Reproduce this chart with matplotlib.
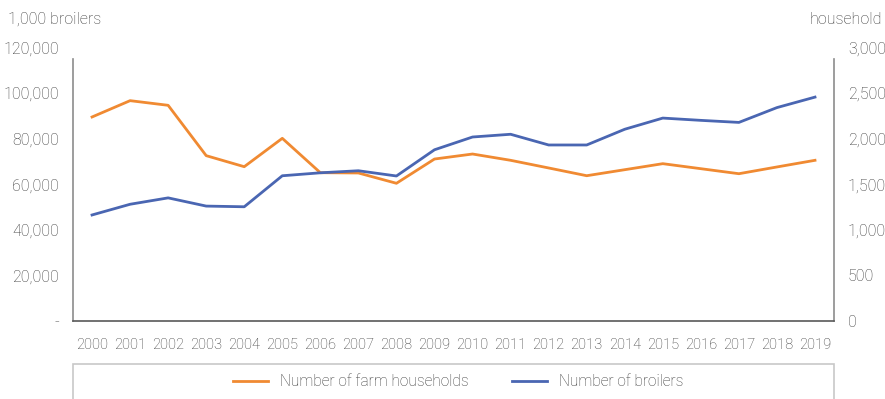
import matplotlib.pyplot as plt
from matplotlib.patches import Rectangle
from matplotlib.ticker import FuncFormatter

plt.rcParams['font.family'] = ['Roboto', 'DejaVu Sans']

years = [str(y) for y in range(2000, 2020)]
# thousand head
broilers = [46500, 51200, 54000, 50400, 50100, 63700, 65000, 65900, 63600, 75100,
            80700, 81900, 77200, 77200, 84100, 89000, 88000, 87100, 93600, 98200]
# farm households
households = [2237, 2416, 2365, 1813, 1692, 2003, 1626, 1623, 1510, 1776,
              1831, 1762, 1678, 1593, 1659, 1725, 1670, 1615, 1689, 1762]

orange = '#F08A32'
blue = '#4A66B2'
txt = '#383838'

fig = plt.figure(figsize=(8.85, 3.99), dpi=100)
ax = fig.add_axes([0.0825, 0.1955, 0.8599, 0.6857])
ax2 = ax.twinx()

x = range(len(years))
l1, = ax2.plot(x, households, color=orange, lw=2.0, label='Number of farm households')
l2, = ax.plot(x, broilers, color=blue, lw=2.0, label='Number of broilers')
ax.set_zorder(ax2.get_zorder() + 1)
ax.patch.set_visible(False)

ax.set_xlim(-0.5, len(years) - 0.5)
ax.set_ylim(0, 120000)
ax2.set_ylim(0, 3000)
ax.set_yticks(range(0, 120001, 20000))
ax2.set_yticks(range(0, 3001, 500))
ax.yaxis.set_major_formatter(FuncFormatter(lambda v, p: '-' if v == 0 else f'{v:,.0f}'))
ax2.yaxis.set_major_formatter(FuncFormatter(lambda v, p: f'{v:,.0f}'))
ax.set_xticks(list(x))
ax.set_xticklabels(years)

for a in (ax, ax2):
    a.tick_params(length=0, labelsize=11.5, labelcolor=txt)
    for s in a.spines.values():
        s.set_visible(False)
ax.tick_params(axis='y', pad=10)
ax.tick_params(axis='x', pad=12, labelsize=10.5)
ax2.tick_params(axis='y', pad=10)
for lab in ax.get_xticklabels() + ax.get_yticklabels() + ax2.get_yticklabels():
    lab.set_fontweight('light')

ax.spines['left'].set_visible(True)
ax.spines['left'].set_color('#8c8c8c')
ax.spines['left'].set_linewidth(1.2)
ax.spines['left'].set_bounds(0, 115000)
ax.spines['bottom'].set_visible(True)
ax.spines['bottom'].set_color('#595959')
ax.spines['bottom'].set_linewidth(1.2)
ax2.spines['right'].set_visible(True)
ax2.spines['right'].set_color('#8c8c8c')
ax2.spines['right'].set_linewidth(1.2)
ax2.spines['right'].set_bounds(0, 2875)

fig.text(0.009, 0.952, '1,000 broilers', fontsize=11.5, color=txt, fontweight='light',
         ha='left', va='center')
fig.text(0.997, 0.952, 'household', fontsize=11.5, color=txt, fontweight='light',
         ha='right', va='center')

fig.patches.append(Rectangle((0.0825, -0.1), 0.8599, 0.1877, transform=fig.transFigure,
                             fill=False, edgecolor='#c8c8c8', lw=1.2, clip_on=False))
leg = fig.legend(handles=[l1, l2], loc='center', bbox_to_anchor=(0.518, 0.043), ncol=2,
                 frameon=False, fontsize=11.2, handlelength=2.2, columnspacing=2.8,
                 handletextpad=0.8)
for t in leg.get_texts():
    t.set_color(txt)
    t.set_fontweight('light')

fig.savefig('out.png', dpi=100)
